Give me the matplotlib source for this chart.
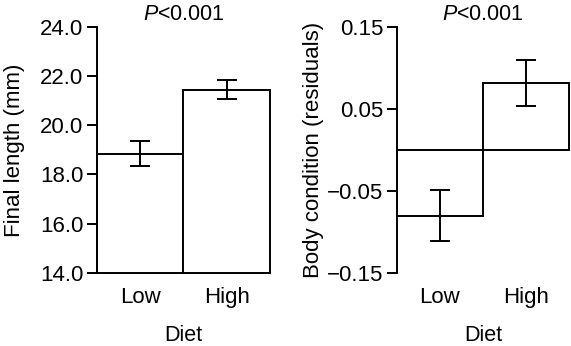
import matplotlib
matplotlib.use("Agg")
import matplotlib.pyplot as plt

plt.rcParams["font.family"] = ["Liberation Sans", "DejaVu Sans"]
plt.rcParams["mathtext.fontset"] = "custom"
plt.rcParams["mathtext.rm"] = "Liberation Sans"
plt.rcParams["mathtext.it"] = "Liberation Sans:italic"

diet = ["Low", "High"]
length_mean = [18.85, 21.45]
length_err = [0.50, 0.37]
cond_mean = [-0.080, 0.081]
cond_err = [0.031, 0.028]
p_text = "$P$<0.001"

LW = 1.4

fig = plt.figure(figsize=(5.71, 3.46), dpi=100)
ax1 = fig.add_axes([0.1693, 0.211, 0.3036, 0.7118])
ax2 = fig.add_axes([0.6947, 0.211, 0.3023, 0.7118])


def style(ax):
    for s in ("top", "right", "bottom"):
        ax.spines[s].set_visible(False)
    ax.spines["left"].set_linewidth(LW)
    ax.tick_params(axis="y", length=7.5, width=LW, labelsize=16, pad=2)
    ax.tick_params(axis="x", length=0, labelsize=16, pad=10)
    ax.set_xlim(-0.5, 1.5)
    ax.set_xticks(range(len(diet)))
    ax.set_xticklabels(diet)
    ax.set_xlabel("Diet", fontsize=15.5, labelpad=12)
    ax.set_title(p_text, fontsize=15.5, pad=5)


# left: final length
ax1.bar(range(len(diet)), [m - 14.0 for m in length_mean], bottom=14.0, width=1.0,
        color="white", edgecolor="black", linewidth=LW)
ax1.errorbar(range(len(diet)), length_mean, yerr=length_err, fmt="none",
             ecolor="black", elinewidth=LW, capsize=7, capthick=LW)
ax1.set_ylim(14.0, 24.0)
ax1.set_yticks([14, 16, 18, 20, 22, 24])
ax1.set_yticklabels([f"{v:.1f}" for v in [14, 16, 18, 20, 22, 24]])
ax1.set_ylabel("Final length (mm)", fontsize=16, labelpad=11)
style(ax1)

# right: body condition
ax2.bar(range(len(diet)), cond_mean, width=1.0,
        color="white", edgecolor="black", linewidth=LW)
ax2.errorbar(range(len(diet)), cond_mean, yerr=cond_err, fmt="none",
             ecolor="black", elinewidth=LW, capsize=7, capthick=LW)
ax2.set_ylim(-0.15, 0.15)
ax2.set_yticks([-0.15, -0.05, 0.05, 0.15])
ax2.set_yticklabels(["\u22120.15", "\u22120.05", "0.05", "0.15"])
ax2.set_ylabel("Body condition (residuals)", fontsize=16, labelpad=2)
style(ax2)

for ax in (ax1, ax2):
    for p in ax.patches:
        p.set_clip_on(False)

fig.savefig("out.png", dpi=100)
